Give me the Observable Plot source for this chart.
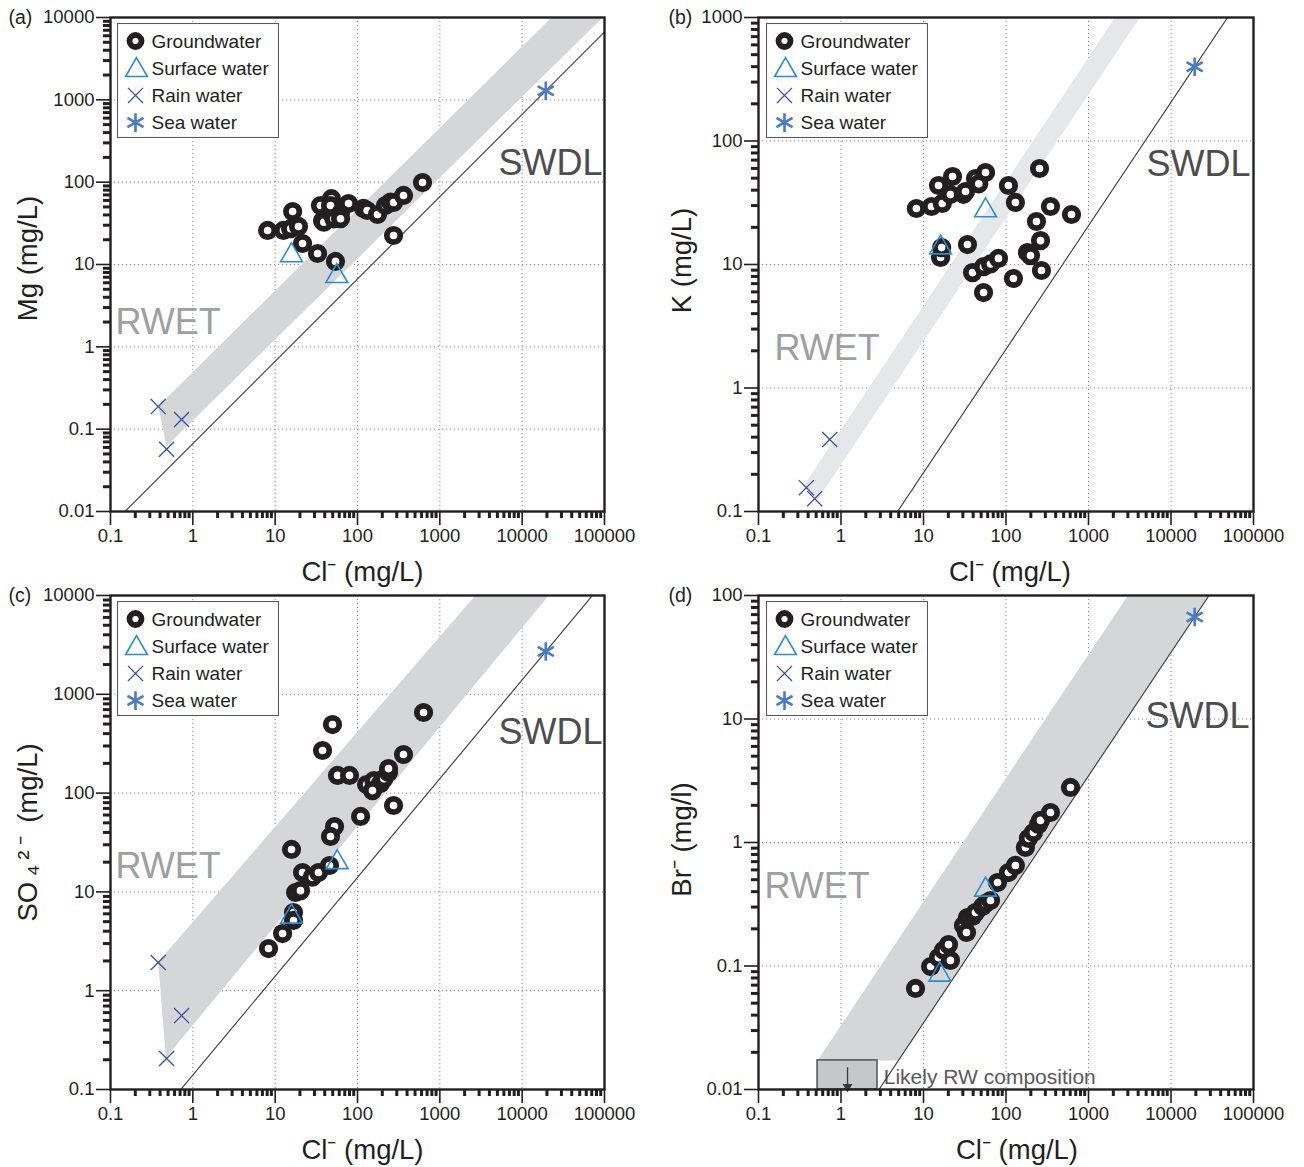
<!DOCTYPE html>
<html>
<head>
<meta charset="utf-8">
<script src="https://cdn.jsdelivr.net/npm/d3@7"></script>
<script src="https://cdn.jsdelivr.net/npm/@observablehq/plot@0.6"></script>
<style>
  body { margin: 0; background: #fff; }
  #fig { position: relative; width: 1304px; height: 1167px; background: #fff; }
  #fig svg { position: absolute; }
</style>
</head>
<body>
<div id="fig"></div>
<script>
const FONT = '"Liberation Sans", Arial, Helvetica, sans-serif';
const INK = "#231f20";

// ---- (a) Mg vs Cl (mg/L): [Cl, Mg]
const gwMg = [[8.1,25.9],[12.6,25.9],[15.4,27.2],[16.3,44],[19.2,29],[21.5,18],[32.7,13.6],[54,10.9],
  [35.5,52],[48.3,63],[77.8,55],[37.6,34],[39,32.7],[47,43],[51.5,35.9],[47,52],[62,41.3],[62.2,36],
  [118,48],[131,45.3],[175,40.5],[219,52],[252,57.2],[274,56.6],[362,69],[616,99],[274,22.5]];
const swMg = [[15.8,12.9],[56,7.2]];
const rainMg = [[0.38,0.188],[0.73,0.131],[0.48,0.057]];
const seaMg = [[19350,1290]];
const bandMg = [[0.38,0.19],[22700,10000],[95000,10000],[0.48,0.062]];

// ---- (b) K vs Cl (mg/L): [Cl, K]
const gwK = [[8.2,28.4],[12.5,29.5],[16.9,31.2],[15.2,43.6],[22.5,51.6],[21.2,36.9],[30.5,37],[32.3,39],
  [42.7,49.7],[46.8,45],[56.5,55.6],[107,43.6],[130,31.8],[255,59.9],[346,29.5],[622,25.4],[234,22.3],
  [262,15.6],[182,12.5],[198,11.8],[269,8.94],[123,7.7],[53.4,5.93],[39.3,8.6],[53.4,9.6],[64.9,10.1],
  [81,11.2],[34.1,14.5],[16.1,11.4],[16.6,13.7]];
const swK = [[56.5,27.4],[16.1,13.7]];
const rainK = [[0.38,0.156],[0.48,0.127],[0.73,0.383]];
const seaK = [[19350,399]];
const bandK = [[0.36,0.165],[2100,1000],[4200,1000],[0.5,0.12]];

// ---- (c) SO4 vs Cl (mg/L): [Cl, SO4]
const gwSO4 = [[49.7,494],[37.6,270],[57.2,151],[80,151],[129,122],[158,134],[190,125],[209,140],
  [238,162],[238,177],[152,106],[362,246],[634,654],[274,74.9],[109,58],[52.6,45.9],[47,36.4],
  [15.8,26.9],[21.5,15.7],[28.2,14.1],[33.6,15.7],[45.7,18.5],[17.7,9.86],[20.3,10.3],[16.7,6.19],
  [16.7,5.14],[12.3,3.79],[8.3,2.67]];
const swSO4 = [[56.7,19.9],[15.8,5.6]];
const rainSO4 = [[0.38,1.93],[0.73,0.56],[0.48,0.206]];
const seaSO4 = [[19350,2710]];
const bandSO4 = [[0.38,1.95],[2700,10000],[21000,10000],[0.47,0.21]];

// ---- (d) Br vs Cl (mg/L): [Cl, Br]
const gwBr = [[8.0,0.0658],[12.2,0.099],[15.2,0.117],[17.5,0.134],[20.1,0.149],[21.2,0.111],
  [30.5,0.213],[33.2,0.187],[34.1,0.247],[39.3,0.252],[42.7,0.271],[51.9,0.303],[56.5,0.321],
  [64.9,0.339],[78.9,0.474],[107,0.571],[130,0.652],[172,0.912],[187,1.08],[215,1.205],[248,1.40],
  [262,1.51],[346,1.75],[605,2.79]];
const swBr = [[15.8,0.0849],[56.5,0.414]];
const rainBr = [];
const seaBr = [[19350,67]];
const bandBr = [[0.52,0.0172],[3000,100],[28900,100],[4.97,0.0172]];
// likely rain-water composition box: [Cl min, Cl max, Br min, Br max], and its downward arrow [Cl, Br from, Br to]
const rwBox = [0.52, 2.77, 0.01, 0.0172];
const rwArrow = [1.2, 0.0150, 0.0105];

const legendItems = ["Groundwater", "Surface water", "Rain water", "Sea water"];

const decades = (lo, hi) => d3.range(lo, hi + 1).map(e => +(10 ** e).toPrecision(12));
const minors = (lo, hi) => d3.range(lo, hi).flatMap(e => d3.range(2, 10).map(k => k * 10 ** e));

const style = {
  ring: {r: 6.7, stroke: INK, strokeWidth: 5.8, fill: "white"},
  tri: {r: 8.1, stroke: "#2a8dd4", strokeWidth: 1.6, fill: "none"},
  times: {r: 6.9, stroke: "#3752a5", strokeWidth: 1.3, fill: "none"},
  star: {r: 8.8, stroke: "#4a7bc8", strokeWidth: 2.6, fill: "none"}
};

const panels = [
  {letter: "(a)", left: 0, top: 0, height: 583, ml: 110, mr: 48, mt: 17, mb: 72, ylo: -2, yhi: 4,
   ylabel: "Mg (mg/L)", gw: gwMg, sw: swMg, rain: rainMg, sea: seaMg, band: bandMg, bandFill: "#d5d6d8",
   rwet: [5, 305], swdl: [-2, 146], xlabDx: 5, ylabDx: -82, ylabDy: -6, letterDx: -102, legend: [117, 23]},
  {letter: "(b)", left: 652, top: 0, height: 583, ml: 106, mr: 51, mt: 17, mb: 72, ylo: -1, yhi: 3,
   ylabel: "K (mg/L)", gw: gwK, sw: swK, rain: rainK, sea: seaK, band: bandK, bandFill: "#e6e7e8",
   rwet: [16, 331], swdl: [-3, 147], xlabDx: 4, ylabDx: -76, ylabDy: -4, letterDx: -90, legend: [766, 23]},
  {letter: "(c)", left: 0, top: 583, height: 584, ml: 110, mr: 48, mt: 12, mb: 78, ylo: -1, yhi: 4,
   ylabel: "SO\u2009\u2084\u2009\u00B2\u2009\u207B\u2009 (mg/L)", gw: gwSO4, sw: swSO4, rain: rainSO4, sea: seaSO4, band: bandSO4, bandFill: "#d5d6d8",
   rwet: [5, 271], swdl: [-2, 137], xlabDx: 5, ylabDx: -82, ylabDy: -10, letterDx: -102, legend: [117, 601]},
  {letter: "(d)", left: 652, top: 583, height: 584, ml: 106, mr: 51, mt: 12, mb: 78, ylo: -2, yhi: 2,
   ylabel: "Br\u207B (mg/l)", gw: gwBr, sw: swBr, rain: rainBr, sea: seaBr, band: bandBr, bandFill: "#d5d6d8",
   rwet: [6, 291], swdl: [-4, 121], xlabDx: 11, ylabDx: -76, ylabDy: -3, letterDx: -90, legend: [766, 601],
   box: rwBox, arrow: rwArrow}
];

const X = d => d[0], Y = d => d[1];

function makePanel(p) {
  const xMaj = decades(-1, 5), xMin = minors(-1, 5);
  const yMaj = decades(p.ylo, p.yhi), yMin = minors(p.ylo, p.yhi);
  const ratio = p.sea[0][1] / p.sea[0][0];
  const swdlLine = [[0.1, 0.1 * ratio], [1e5, 1e5 * ratio]];
  const marks = [
    Plot.gridX(xMaj.slice(1, -1), {stroke: "#8c8c8c", strokeOpacity: 1, strokeWidth: 1, strokeDasharray: "1.2,2.8"}),
    Plot.gridY(yMaj.slice(1, -1), {stroke: "#8c8c8c", strokeOpacity: 1, strokeWidth: 1, strokeDasharray: "1.2,2.8"}),
    Plot.line(p.band, {x: X, y: Y, fill: p.bandFill, stroke: "none", clip: true}),
  ];
  if (p.box) {
    const b = p.box, a = p.arrow;
    marks.push(
      Plot.rect([b], {x1: d => d[0], x2: d => d[1], y1: d => d[2], y2: d => d[3],
        fill: "#c6c7c9", stroke: "#58595b", strokeWidth: 1.6}),
      Plot.ruleX([a], {x: d => d[0], y1: d => d[1], y2: d => d[2], stroke: "#3a3a3a", strokeWidth: 1.3}),
      Plot.dot([a], {x: d => d[0], y: d => d[2], symbol: "triangle", rotate: 180, r: 3.6, fill: "#3a3a3a", stroke: "none"}),
      Plot.text(["Likely RW composition"], {x: 3.3, y: 0.0126, text: d => d, textAnchor: "start",
        fontSize: 21, fill: "#58595b"})
    );
  }
  marks.push(
    Plot.line(swdlLine, {x: X, y: Y, stroke: "#3a3a3a", strokeWidth: 1.1, clip: true}),
    Plot.dot(p.gw, {x: X, y: Y, symbol: "circle", ...style.ring}),
    Plot.dot(p.sw, {x: X, y: Y, symbol: "triangle", ...style.tri}),
    Plot.dot(p.rain, {x: X, y: Y, symbol: "times", ...style.times}),
    Plot.dot(p.sea, {x: X, y: Y, symbol: "asterisk", ...style.star}),
    Plot.text(["RWET"], {frameAnchor: "top-left", dx: p.rwet[0], dy: p.rwet[1], text: d => d,
      textAnchor: "start", lineAnchor: "middle", fontSize: 36, fill: "#9d9fa2"}),
    Plot.text(["SWDL"], {frameAnchor: "top-right", dx: p.swdl[0], dy: p.swdl[1], text: d => d,
      textAnchor: "end", lineAnchor: "middle", fontSize: 36, fill: "#4d4d4f"}),
    // axes: long thin decade ticks with labels, short heavy minor ticks
    Plot.axisX(xMaj, {anchor: "bottom", tickSize: 14, tickPadding: 3, strokeWidth: 1.6, stroke: INK,
      tickFormat: d => String(d), fontSize: 18.5, fill: INK, label: null}),
    Plot.axisX(xMin, {anchor: "bottom", tickSize: 7, strokeWidth: 3, stroke: INK, tickFormat: () => "", label: null}),
    Plot.axisY(yMaj, {anchor: "left", tickSize: 14, tickPadding: 2, strokeWidth: 1.6, stroke: INK,
      tickFormat: d => String(d), fontSize: 18.5, fill: INK, label: null}),
    Plot.axisY(yMin, {anchor: "left", tickSize: 7, strokeWidth: 3, stroke: INK, tickFormat: () => "", label: null}),
    Plot.frame({stroke: INK, strokeWidth: 2.4}),
    Plot.text(["Cl\u207B (mg/L)"], {frameAnchor: "bottom", dx: p.xlabDx, dy: 61, text: d => d,
      textAnchor: "middle", lineAnchor: "middle", fontSize: 27.5, fill: INK}),
    Plot.text([p.ylabel], {frameAnchor: "left", dx: p.ylabDx, dy: p.ylabDy, rotate: -90, text: d => d,
      textAnchor: "middle", lineAnchor: "middle", fontSize: 27.5, fill: INK}),
    Plot.text([p.letter], {frameAnchor: "top-left", dx: p.letterDx, text: d => d,
      textAnchor: "start", lineAnchor: "middle", fontSize: 19.5, fill: INK})
  );
  const svg = Plot.plot({
    width: 652, height: p.height,
    marginLeft: p.ml, marginRight: p.mr, marginTop: p.mt, marginBottom: p.mb,
    style: {fontFamily: FONT, fontSize: "18px", color: INK, background: "transparent", overflow: "visible"},
    x: {type: "log", domain: [0.1, 1e5]},
    y: {type: "log", domain: [10 ** p.ylo, 10 ** p.yhi]},
    marks
  });
  svg.style.left = p.left + "px";
  svg.style.top = p.top + "px";
  return svg;
}

function symbolPath(type, r) {
  const size = Math.PI * r * r;
  const t = {circle: d3.symbolCircle, triangle: d3.symbolTriangle, times: d3.symbolTimes, asterisk: d3.symbolAsterisk}[type];
  return d3.symbol(t, size)();
}

function makeLegend(left, top) {
  const W = 162, H = 115;
  const svg = d3.create("svg").attr("width", W).attr("height", H)
    .style("left", left + "px").style("top", top + "px");
  svg.append("rect").attr("x", 0.5).attr("y", 0.5).attr("width", W - 1).attr("height", H - 1)
    .attr("fill", "white").attr("stroke", "#58595b").attr("stroke-width", 1.1);
  const sym = [["circle", style.ring], ["triangle", style.tri], ["times", style.times], ["asterisk", style.star]];
  legendItems.forEach((name, i) => {
    const y = 18 + i * 27.2;
    const [type, s] = sym[i];
    const r = type === "circle" ? 6.0 : s.r;
    svg.append("path").attr("d", symbolPath(type, r))
      .attr("transform", `translate(${type === "triangle" ? 19.5 : 18.5},${type === "triangle" ? y + 2 : y})`)
      .attr("fill", s.fill).attr("stroke", s.stroke).attr("stroke-width", s.strokeWidth);
    svg.append("text").attr("x", 34.5).attr("y", y).attr("dy", "0.35em")
      .attr("font-family", FONT).attr("font-size", 19).attr("fill", INK).text(name);
  });
  return svg.node();
}

const fig = document.getElementById("fig");
for (const p of panels) {
  fig.appendChild(makePanel(p));
}
for (const p of panels) {
  fig.appendChild(makeLegend(p.legend[0], p.legend[1]));
}
</script>
</body>
</html>
